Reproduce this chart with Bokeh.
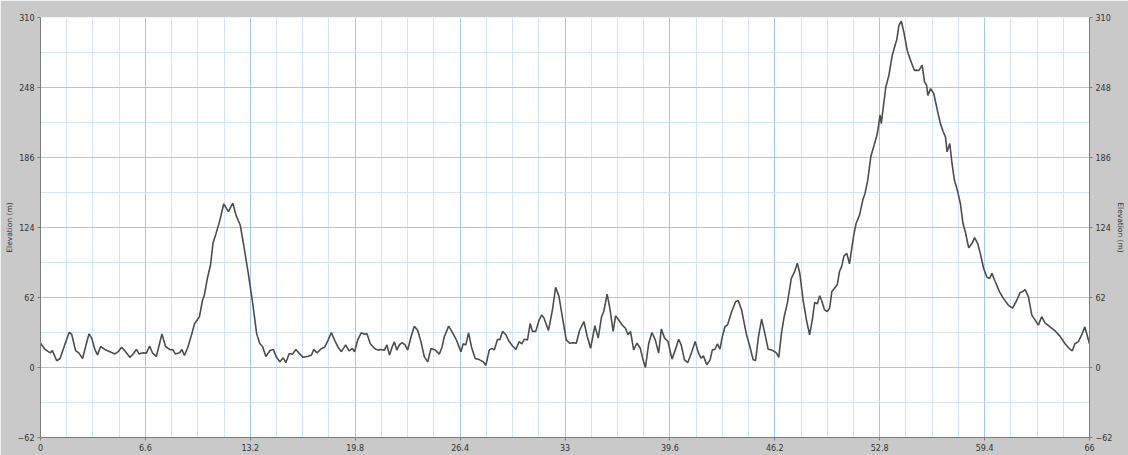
from bokeh.plotting import figure
from bokeh.models import Range1d, LinearAxis, FixedTicker, CustomJSTickFormatter
from bokeh.embed import file_html
from bokeh.resources import INLINE

# Distance along route (km) and elevation (m)
dist_km = [
    0, 0.29, 0.61, 0.75, 1.02, 1.23, 1.55, 1.8, 1.96, 2.21, 2.42, 2.65, 2.84, 3.05, 3.22, 3.43, 3.59, 3.78,
    4.05, 4.37, 4.68, 4.89, 5.1, 5.35, 5.62, 5.83, 6.04, 6.2, 6.45, 6.66, 6.87, 7.04, 7.29, 7.64, 7.87, 8.12,
    8.33, 8.48, 8.75, 8.9, 9.06, 9.27, 9.52, 9.69, 10.0, 10.2, 10.3, 10.5, 10.7, 10.85, 11.05, 11.26, 11.53,
    11.82, 12.1, 12.3, 12.57, 12.8, 13.07, 13.35, 13.6, 13.8, 13.97, 14.18,
    14.44, 14.65, 14.85, 15.06, 15.27, 15.44, 15.65, 15.84, 16.07, 16.32, 16.53, 16.84, 17.05, 17.19, 17.4,
    17.68, 17.88, 18.09, 18.3, 18.51, 18.72, 18.93, 19.2, 19.41, 19.62, 19.76, 19.97, 20.18, 20.39, 20.54,
    20.75, 21.02, 21.23, 21.43, 21.64, 21.79, 21.96, 22.12, 22.27, 22.42, 22.58, 22.75, 22.94, 23.1, 23.31,
    23.52, 23.73, 23.94, 24.15, 24.36, 24.57, 24.84, 25.09, 25.26, 25.4, 25.68, 25.93, 26.18, 26.45, 26.6,
    26.76, 26.93, 27.12, 27.35, 27.6, 27.85, 28.02,
    28.24, 28.4, 28.55, 28.76, 28.9, 29.07, 29.28, 29.49, 29.7, 29.91, 30.12, 30.28, 30.43, 30.64, 30.81,
    30.95, 31.16, 31.37, 31.54, 31.68, 31.96, 32.21, 32.41, 32.62, 32.83, 33.08, 33.29, 33.56, 33.71, 33.92,
    34.19, 34.4, 34.61, 34.88, 35.09, 35.3, 35.44, 35.65, 35.82, 36.03, 36.18, 36.38, 36.59, 36.8, 36.97,
    37.12, 37.32, 37.53, 37.74, 37.89, 38.06, 38.27, 38.47, 38.68, 38.89, 39.06, 39.27, 39.48, 39.73, 39.94,
    40.15, 40.31, 40.52, 40.73, 40.98, 41.19, 41.4,
    41.56, 41.71, 41.92, 42.13, 42.27, 42.44, 42.59, 42.75, 42.9, 43.07, 43.23, 43.49, 43.74, 43.9, 44.11,
    44.42, 44.63, 44.84, 44.99, 45.16, 45.37, 45.57, 45.78, 45.99, 46.2, 46.31, 46.45, 46.62, 46.79, 46.99,
    47.24, 47.45, 47.62, 47.77, 47.98, 48.19, 48.39, 48.56, 48.71, 48.88, 49.02, 49.17, 49.33, 49.5, 49.65,
    49.79, 49.96, 50.13, 50.27, 50.42, 50.55, 50.73, 50.9, 51.01, 51.17, 51.32, 51.53, 51.74, 51.88, 52.05,
    52.24, 52.45, 52.65, 52.82, 52.9, 53.03, 53.18, 53.38, 53.59, 53.8, 53.87, 54.01, 54.16, 54.32, 54.53,
    54.74, 54.99, 55.12, 55.26, 55.47, 55.62, 55.75, 55.83, 56.0, 56.2, 56.41, 56.62, 56.79, 56.94, 57.04,
    57.21, 57.35, 57.5, 57.71, 57.88, 58.04, 58.19, 58.4, 58.61, 58.77, 58.96, 59.13, 59.34, 59.55, 59.72,
    59.86, 60.07, 60.34, 60.59, 60.91, 61.16, 61.39, 61.64, 61.8, 61.95, 62.16, 62.37, 62.58, 62.78, 62.99,
    63.2, 63.52, 63.83, 64.14, 64.46, 64.73, 64.92, 65.08, 65.29, 65.5, 65.71, 65.81, 66.0,
]
elev_m = [
    21.5, 16, 13, 15, 6, 8, 21, 31, 29.5, 15, 12.7, 8, 18.6, 29.8, 26, 15.6, 11.2, 18.6,
    16, 14, 12, 14, 18, 14, 9, 12, 16, 12, 13, 12.7, 19, 13, 9.7, 29.8, 18.6, 16,
    15.6, 12, 13, 16, 10.6, 18, 29.8, 38.7, 45, 60, 63.5, 79, 91, 110, 119, 129, 145,
    138, 145.5, 135, 126, 107, 83.5, 57, 30, 21, 18.6, 9.7,
    15, 16, 9, 5, 8.6, 4.4, 12.4, 11.8, 16, 11.8, 9, 10, 11, 16, 13,
    16.8, 18, 24, 31, 24, 18, 14, 20, 14.8, 16.8, 14, 25, 30.7, 29.5, 30,
    21, 16.8, 15.4, 16, 15.4, 20, 11, 18, 22.7, 15.4, 20, 22, 20, 15.4, 27,
    36.6, 33, 22.7, 9.4, 5, 16.8, 15.4, 11.8, 18, 27, 36.6, 30.7, 24, 14, 21,
    20, 30.7, 18, 8, 7, 5, 2,
    15.6, 17, 15.6, 25, 24.5, 32, 29, 23, 19, 16, 23, 21, 25, 24.5, 39,
    32, 32, 42, 46.6, 43.7, 32.8, 51, 71, 63, 45, 24.5, 21.5, 22, 21.5, 33,
    40.7, 27.5, 17, 37, 26, 45, 49.6, 65, 52.6, 32, 45.8, 42, 37.8, 34.8, 29,
    32, 15.6, 21.5, 17, 8, 0, 21.5, 31, 24.5, 12.7, 34, 26, 23, 7.4, 15.6,
    25, 20, 6.8, 4.4, 14, 23, 12.7,
    8.3, 10.3, 2.4, 6.8, 15.6, 16.2, 21, 16.2, 27.5, 36.3, 37.8, 49.6, 58.5, 59.3, 51,
    29, 18.6, 6.8, 6.2, 26, 42.8, 30.4, 16.2, 15.6, 14, 12.7, 9, 30.4, 45, 57,
    79, 85, 92.4, 83.5, 60, 42.2, 29, 42.2, 57.6, 56.4, 63.5, 58.5, 51, 49.6, 52.6,
    67.3, 70.3, 73.2, 85, 90, 98.9, 101, 91.8, 102.7, 117.5, 127.8, 135, 148.5, 154.4, 166,
    186.6, 197, 207, 223.5, 216, 231, 248, 259, 276.6, 287, 290, 303, 306.7, 297, 281,
    272, 263, 263.4, 263, 267.8, 253, 250, 241, 247, 242.7, 229, 216, 209, 204, 191,
    198.4, 180.7, 166, 155.6, 145, 127.5, 120, 106, 110, 115, 110, 101, 87.7, 80, 78.8,
    83.5, 76, 67, 61, 55, 52.6, 58.5, 66.5, 67.3, 69, 62.6, 46.4, 42, 37.5, 45,
    39.6, 36, 32.5, 27.8, 21, 16.8, 14.8, 21, 22.7, 28.6, 36, 30.7, 21,
]

x_ticks = [0, 6.6, 13.2, 19.8, 26.4, 33, 39.6, 46.2, 52.8, 59.4, 66]
x_minor_ticks = [1.65, 3.3, 4.95, 8.25, 9.9, 11.55, 14.85, 16.5, 18.15, 21.45, 23.1, 24.75,
                 28.05, 29.7, 31.35, 34.65, 36.3, 37.95, 41.25, 42.9, 44.55, 47.85, 49.5, 51.15,
                 54.45, 56.1, 57.75, 61.05, 62.7, 64.35]
y_ticks = [-62, 0, 62, 124, 186, 248, 310]
y_minor_ticks = [-31, 31, 93, 155, 217, 279]

TXT = "#333333"
FONT = "DejaVu Sans"

p = figure(width=1128, height=455, output_backend="svg", toolbar_location=None,
           x_range=Range1d(0, 66), y_range=Range1d(-62, 310),
           min_border_left=40, min_border_right=36, min_border_top=17, min_border_bottom=18)

p.background_fill_color = "white"
p.border_fill_color = "#c9c9c9"
p.outline_line_color = None

xt = FixedTicker(ticks=x_ticks, minor_ticks=x_minor_ticks)
yt = FixedTicker(ticks=y_ticks, minor_ticks=y_minor_ticks)

fmt = CustomJSTickFormatter(code="return (Math.round(tick*10)/10).toString().replace('-', '\u2212');")

p.xaxis.ticker = xt
p.xaxis.formatter = fmt
p.yaxis.ticker = yt
p.xgrid.ticker = xt
p.ygrid.ticker = yt

for g in (p.xgrid, p.ygrid):
    g.grid_line_color = "#a3c9ef"
    g.grid_line_width = 1
    g.minor_grid_line_color = "#d3e5f8"
    g.minor_grid_line_width = 1

right = LinearAxis(ticker=yt)
p.add_layout(right, "right")

p.yaxis.axis_label = "Elevation (m)"
right.axis_label = "Elevation (m)"

for ax in (p.xaxis[0], p.yaxis[0], right):
    ax.axis_line_color = "#7c7c7c"
    ax.axis_line_width = 1
    ax.major_tick_line_color = "#7c7c7c"
    ax.major_tick_out = 3
    ax.major_tick_in = 0
    ax.minor_tick_line_color = None
    ax.major_label_text_font = FONT
    ax.major_label_text_font_size = "8px"
    ax.major_label_text_color = TXT
    ax.major_label_standoff = 2
    ax.axis_label_text_font = FONT
    ax.axis_label_text_font_size = "7.5px"
    ax.axis_label_text_font_style = "normal"
    ax.axis_label_text_color = TXT
    ax.axis_label_standoff = 1

p.line(dist_km, elev_m, line_color="#4d4d4d", line_width=1.6)

open("out.html", "w").write(file_html(p, INLINE))
